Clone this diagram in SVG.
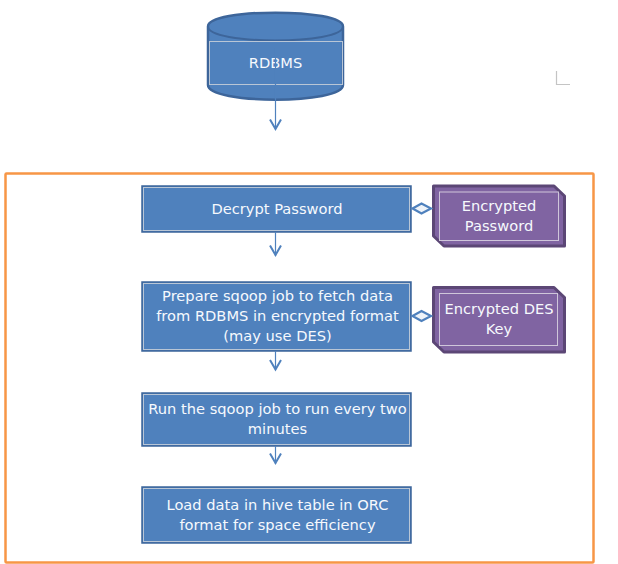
<svg xmlns="http://www.w3.org/2000/svg" width="618" height="564" viewBox="0 0 618 564">
<style>
text{font-family:"DejaVu Sans",sans-serif;font-size:14.65px;fill:#f6f9fd;text-anchor:middle}
.box{fill:#4f81bd;stroke:#3d659a;stroke-width:1.5}
.in{fill:none;stroke:#b9c6d6;stroke-width:1}
.pur{fill:#8064a2;stroke:#5c4776;stroke-width:3;stroke-linejoin:round}
.pin{fill:none;stroke:#cfc6da;stroke-width:1}
.line{fill:none;stroke:#4f81bd;stroke-width:1.2}
.head{fill:none;stroke:#4f81bd;stroke-width:2}
.dia{fill:#eef3f9;stroke:#4f81bd;stroke-width:2.200}
</style>
<rect id="frame" x="5.500" y="173.500" width="588" height="389" fill="none" stroke="#f79646" stroke-width="2.500" rx="1"/>
<path id="corner" d="M556.500 71V84.500H570" fill="none" stroke="#c4c4c4" stroke-width="1.200"/>
<g id="rdbms">
<path d="M208 26.500C208 8 343 8 343 26.500V85C343 104.500 208 104.500 208 85Z" fill="#4f81bd" stroke="#3d659a" stroke-width="2.500"/>
<path d="M208 26.500C208 45 343 45 343 26.500" fill="none" stroke="#3d659a" stroke-width="2"/>
<rect class="in" x="209.500" y="41.500" width="133" height="43"/>
<text x="275.500" y="67.500">RDBMS</text>
</g>
<g id="decrypt">
<rect class="box" x="142" y="186" width="269" height="46"/>
<rect class="in" x="143.500" y="187.500" width="266" height="43"/>
<text x="277" y="213.500">Decrypt Password</text>
</g>
<g id="prepare">
<rect class="box" x="142" y="282" width="269" height="69"/>
<rect class="in" x="143.500" y="283.500" width="266" height="66"/>
<text x="277.500" y="300.700">Prepare sqoop job to fetch data</text>
<text x="277.500" y="320.500">from RDBMS in encrypted format</text>
<text x="277.500" y="340.700">(may use DES)</text>
</g>
<g id="run">
<rect class="box" x="142" y="393" width="269" height="53"/>
<rect class="in" x="143.500" y="394.500" width="266" height="50"/>
<text x="277.500" y="414">Run the sqoop job to run every two</text>
<text x="277.500" y="434">minutes</text>
</g>
<g id="load">
<rect class="box" x="142" y="487" width="269" height="56"/>
<rect class="in" x="143.500" y="488.500" width="266" height="53"/>
<text x="277.500" y="510">Load data in hive table in ORC</text>
<text x="277.500" y="529.500">format for space efficiency</text>
</g>
<g id="encpass">
<path class="pur" d="M433.500 186H554L564.500 196V246H444L433.500 236Z"/>
<rect class="pin" x="439.500" y="192" width="119" height="48.500"/>
<text x="499" y="211">Encrypted</text>
<text x="499" y="230.500">Password</text>
</g>
<g id="enckey">
<path class="pur" d="M433.500 287.500H554L564.500 297.500V352H444L433.500 342Z"/>
<rect class="pin" x="439.500" y="293.500" width="118" height="52"/>
<text x="499" y="314">Encrypted DES</text>
<text x="499" y="333.500">Key</text>
</g>
<g id="connectors">
<path class="line" d="M275.500 48V128M275.500 232V256M275.500 351V370M275.500 446V464"/>
<path class="head" d="M270 119.500L275.500 129L281 119.500M270 245.500L275.500 255L281 245.500M270 360L275.500 369.500L281 360M270 453.500L275.500 463L281 453.500"/>
<path class="dia" d="M412.500 208.500L421.500 203.500L431 208.500L421.500 213.500ZM412.500 316L421.500 311L431 316L421.500 321Z"/>
</g>
</svg>
